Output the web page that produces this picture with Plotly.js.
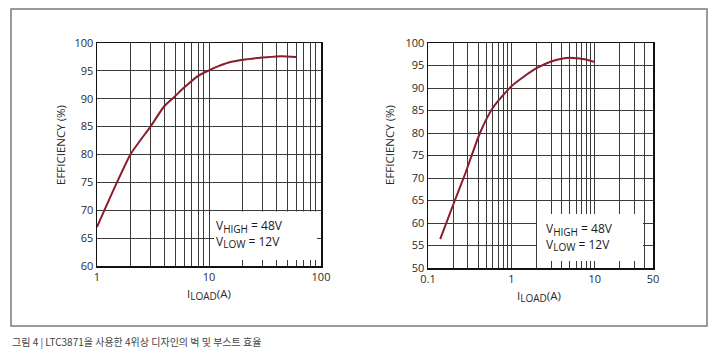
<!DOCTYPE html>
<html>
<head>
<meta charset="utf-8">
<script src="https://cdn.plot.ly/plotly-3.0.1.min.js"></script>
<style>html,body{margin:0;padding:0;background:#fff;}#chart{width:720px;height:355px;}</style>
</head>
<body>
<div id="chart"></div>
<script>
// Left chart: buck efficiency
const buckLoad = [1, 1.5, 2, 3, 4, 5, 6, 8, 10, 12, 15, 20, 30, 40, 50, 60];
const buckEff  = [67.0, 74.9, 80.1, 85.0, 88.7, 90.5, 92.0, 94.1, 95.1, 95.8, 96.5, 97.0, 97.4, 97.6, 97.6, 97.5];
// Right chart: boost efficiency
const boostLoad = [0.14, 0.2, 0.28, 0.42, 0.6, 1, 1.38, 2, 3, 4, 5, 6, 8, 10];
const boostEff  = [56.4, 64.0, 71.0, 80.0, 85.6, 90.4, 92.4, 94.4, 95.9, 96.5, 96.7, 96.6, 96.3, 95.8];

const leftXGrid = [1,2,3,4,5,6,7,8,9,10,20,30,40,50,60,70,80,90,100];
const leftXLabels = ['1','','','','','','','','','10','','','','','','','','','100'];
const rightXGrid = [0.1,0.2,0.3,0.4,0.5,0.6,0.7,0.8,0.9,1,2,3,4,5,6,7,8,9,10,20,30,40,50];
const rightXLabels = ['0.1','','','','','','','','','1','','','','','','','','','10','','','','50'];
const leftYTicks = [60,65,70,75,80,85,90,95,100];
const rightYTicks = [50,55,60,65,70,75,80,85,90,95,100];

const sub = s => '<sub><span style="font-size:10px">' + s + '</span></sub>';
const noteText = 'V' + sub('HIGH') + ' = 48V<br>V' + sub('LOW') + ' = 12V';
const xTitle = 'I' + sub('LOAD') + '(A)';
const yTitle = 'EFFICIENCY (%)';
const caption = '그림 4 | LTC3871을 사용한 4위상 디자인의 벅 및 부스트 효율';

const W = 720, H = 355;
const px = v => v / W;
const py = v => 1 - v / H;

const curveColor = '#8a1c2c';
const gridColor = '#3a3a3a';
const fam = 'Open Sans, Noto Sans, sans-serif';
const font = {family: fam, size: 11, color: '#2a2a2a'};

const traces = [
  {x: buckLoad, y: buckEff, xaxis: 'x', yaxis: 'y', mode: 'lines',
   line: {color: curveColor, width: 2, shape: 'spline', smoothing: 0.6}, hoverinfo: 'skip'},
  {x: boostLoad, y: boostEff, xaxis: 'x2', yaxis: 'y2', mode: 'lines',
   line: {color: curveColor, width: 2, shape: 'spline', smoothing: 0.6}, hoverinfo: 'skip'}
];

function xAxis(domain, range, grid, labels, anchor) {
  return {
    type: 'log', domain: domain, range: range, anchor: anchor,
    tickmode: 'array', tickvals: grid, ticktext: labels,
    showgrid: true, gridcolor: gridColor, gridwidth: 1,
    showline: true, linecolor: '#111', linewidth: 1.5, mirror: true,
    ticks: '', ticklen: 0, zeroline: false,
    tickfont: font
  };
}
function yAxis(domain, range, ticks, anchor) {
  return {
    domain: domain, range: range, anchor: anchor,
    tickmode: 'array', tickvals: ticks,
    showgrid: true, gridcolor: gridColor, gridwidth: 1,
    showline: true, linecolor: '#111', linewidth: 1.5, mirror: true,
    ticks: '', zeroline: false,
    tickfont: font
  };
}

const titleFont = {family: fam, size: 11.5, color: '#2a2a2a'};

const layout = {
  width: W, height: H,
  margin: {l: 0, r: 0, t: 0, b: 0},
  paper_bgcolor: '#fff', plot_bgcolor: 'rgba(0,0,0,0)',
  showlegend: false,
  font: font,
  xaxis: xAxis([px(97), px(321)], [0, 2], leftXGrid, leftXLabels, 'y'),
  yaxis: yAxis([py(266), py(43)], [60, 100], leftYTicks, 'x'),
  xaxis2: xAxis([px(428), px(653)], [-1, Math.log10(50)], rightXGrid, rightXLabels, 'y2'),
  yaxis2: yAxis([py(268), py(43)], [50, 100], rightYTicks, 'x2'),
  shapes: [
    {type: 'rect', xref: 'paper', yref: 'paper', x0: px(11), x1: px(707), y0: py(326), y1: py(9),
     line: {color: '#7a7a7a', width: 1.5}, fillcolor: 'rgba(0,0,0,0)', layer: 'below'},
    {type: 'rect', xref: 'paper', yref: 'paper', x0: px(214), x1: px(317), y0: py(260), y1: py(211.5),
     line: {width: 0}, fillcolor: '#ffffff', layer: 'above'},
    {type: 'rect', xref: 'paper', yref: 'paper', x0: px(537), x1: px(643), y0: py(261), y1: py(214),
     line: {width: 0}, fillcolor: '#ffffff', layer: 'above'}
  ],
  annotations: [
    {xref: 'paper', yref: 'paper', x: px(214), y: py(215), xanchor: 'left', yanchor: 'top',
     text: noteText, showarrow: false, align: 'left',
     font: {family: fam, size: 12, color: '#1a1a1a'}},
    {xref: 'paper', yref: 'paper', x: px(544), y: py(218), xanchor: 'left', yanchor: 'top',
     text: noteText, showarrow: false, align: 'left',
     font: {family: fam, size: 12, color: '#1a1a1a'}},
    {xref: 'paper', yref: 'paper', x: px(60), y: py(145), xanchor: 'center', yanchor: 'middle',
     text: yTitle, textangle: -90, showarrow: false, font: titleFont},
    {xref: 'paper', yref: 'paper', x: px(389), y: py(145), xanchor: 'center', yanchor: 'middle',
     text: yTitle, textangle: -90, showarrow: false, font: titleFont},
    {xref: 'paper', yref: 'paper', x: px(209), y: py(294), xanchor: 'center', yanchor: 'middle',
     text: xTitle, showarrow: false, font: titleFont},
    {xref: 'paper', yref: 'paper', x: px(539), y: py(296), xanchor: 'center', yanchor: 'middle',
     text: xTitle, showarrow: false, font: titleFont},
    {xref: 'paper', yref: 'paper', x: px(10), y: py(341), xanchor: 'left', yanchor: 'middle',
     text: caption, showarrow: false, align: 'left',
     font: {family: 'Noto Sans CJK KR, sans-serif', size: 10, color: '#444'}}
  ]
};

Plotly.newPlot('chart', traces, layout, {staticPlot: true, displayModeBar: false});
</script>
</body>
</html>
